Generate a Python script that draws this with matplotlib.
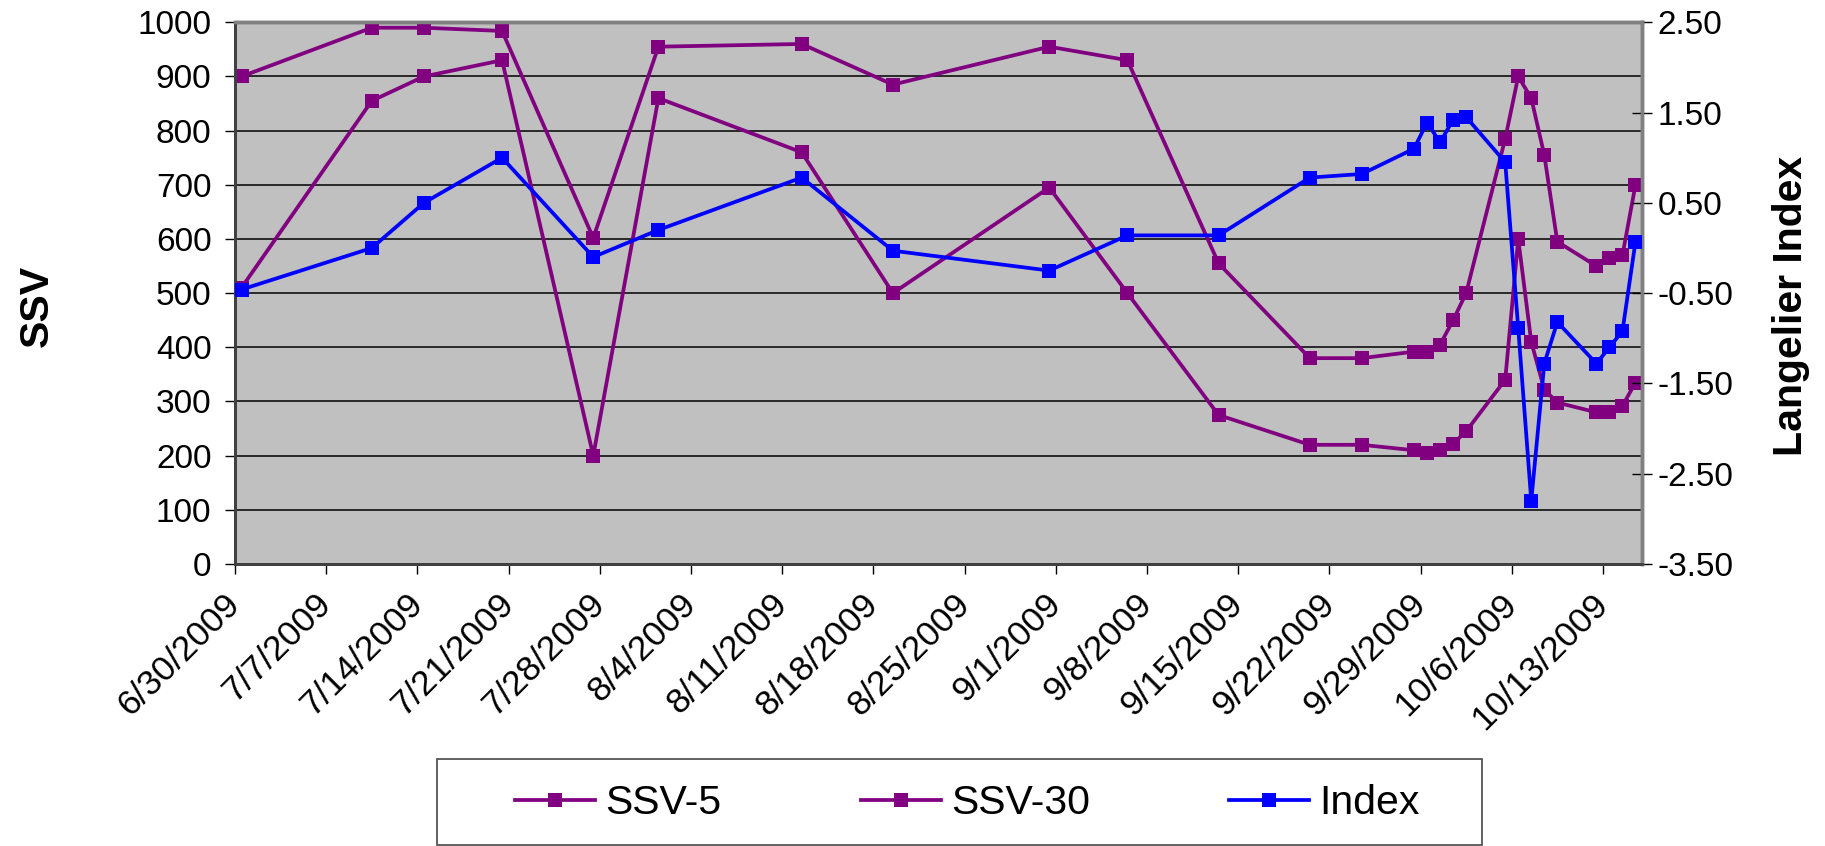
import matplotlib
matplotlib.use("Agg")
import matplotlib.pyplot as plt
import matplotlib.dates as mdates
from matplotlib.ticker import FormatStrFormatter, MultipleLocator
from matplotlib.patches import Rectangle
from datetime import datetime, timedelta
import numpy as np

plt.rcParams['font.family'] = ['Liberation Sans', 'DejaVu Sans']

dates = ['6/30/2009', '7/10/2009', '7/14/2009', '7/20/2009', '7/27/2009', '8/1/2009',
         '8/12/2009', '8/19/2009', '8/31/2009', '9/6/2009', '9/13/2009', '9/20/2009',
         '9/24/2009', '9/28/2009', '9/29/2009', '9/30/2009', '10/1/2009', '10/2/2009',
         '10/5/2009', '10/6/2009', '10/7/2009', '10/8/2009', '10/9/2009', '10/12/2009',
         '10/13/2009', '10/14/2009', '10/15/2009']
ssv5 = [900, 990, 990, 984, 602, 955, 960, 885, 955, 930, 555, 380, 380, 392, 392,
        405, 450, 500, 785, 900, 860, 755, 595, 550, 565, 570, 700]
ssv30 = [510, 855, 900, 930, 200, 860, 760, 500, 695, 500, 275, 220, 220, 210, 205,
         210, 222, 245, 340, 600, 410, 322, 298, 280, 280, 292, 335]
index = [-0.46, 0.0, 0.5, 1.0, -0.1, 0.2, 0.78, -0.03, -0.25, 0.14, 0.14, 0.78, 0.82,
         1.1, 1.39, 1.17, 1.42, 1.45, 0.95, -0.89, -2.80, -1.28, -0.82, -1.28, -1.10,
         -0.92, 0.07]
tick_labels = ['6/30/2009', '7/7/2009', '7/14/2009', '7/21/2009', '7/28/2009', '8/4/2009',
               '8/11/2009', '8/18/2009', '8/25/2009', '9/1/2009', '9/8/2009', '9/15/2009',
               '9/22/2009', '9/29/2009', '10/6/2009', '10/13/2009']

x = [datetime.strptime(d, '%m/%d/%Y') for d in dates]
half = timedelta(hours=12)
tick_pos = [datetime.strptime(t, '%m/%d/%Y') - half for t in tick_labels]

W, H = 1825, 846
fig = plt.figure(figsize=(W / 100, H / 100), dpi=100)
L, R, T, B = 235, 1642, 22.3, 564
ax = fig.add_axes([L / W, 1 - B / H, (R - L) / W, (B - T) / H])
ax.set_facecolor('#C0C0C0')

purple = '#800080'
blue = '#0000FF'
kw = dict(marker='s', markersize=9.5, linewidth=2.7, markeredgewidth=0)
l1, = ax.plot(x, ssv5, color=purple, label='SSV-5', zorder=3, **kw)
l2, = ax.plot(x, ssv30, color=purple, label='SSV-30', zorder=3, **kw)

ax.set_xlim(x[0] - half, x[-1] + half)
ax.set_ylim(0, 1000)
ax.yaxis.set_major_locator(MultipleLocator(100))
ax.yaxis.grid(True, color='black', linewidth=1.1)
ax.set_axisbelow(True)
ax.set_xticks(tick_pos)
ax.set_xticklabels(tick_labels, rotation=45, ha='right', va='center',
                   rotation_mode='anchor', fontsize=25.5)
ax.tick_params(axis='y', labelsize=24, direction='out', length=7, width=1, pad=10)
ax.tick_params(axis='x', direction='out', length=7, width=1, pad=18)

ax2 = ax.twinx()
l3, = ax2.plot(x, index, color=blue, label='Index', zorder=4, **kw)
ax2.set_ylim(-3.5, 2.5)
ax2.set_yticks(np.arange(-3.5, 2.51, 1.0))
ax2.yaxis.set_major_formatter(FormatStrFormatter('%.2f'))
ax2.tick_params(axis='y', labelsize=24, direction='inout', length=14, width=1, pad=4)
ax2.set_xlim(x[0] - half, x[-1] + half)

for a in (ax, ax2):
    a.spines['top'].set_color('#808080')
    a.spines['top'].set_linewidth(2.5)
    a.spines['right'].set_color('#808080')
    a.spines['right'].set_linewidth(2.5)
    a.spines['left'].set_color('#404040')
    a.spines['left'].set_linewidth(2)
    a.spines['bottom'].set_color('#404040')
    a.spines['bottom'].set_linewidth(2)

fig.text(37 / W, 1 - 306 / H, 'SSV', rotation=90, fontsize=29.5, fontweight='bold',
         ha='center', va='center')
fig.text(1791 / W, 1 - 306 / H, 'Langelier Index', rotation=90, fontsize=29.5,
         fontweight='bold', ha='center', va='center')

box = Rectangle((436.7 / W, 1 / H), 1045 / W, 86 / H, transform=fig.transFigure,
                facecolor='white', edgecolor='#555555', linewidth=1.3, zorder=0)
fig.patches.append(box)
fig.legend([l1, l2, l3], ['SSV-5', 'SSV-30', 'Index'], ncol=3, frameon=False,
           loc='center', bbox_to_anchor=(967.7 / W, 1 - 803 / H),
           fontsize=29.5, handlelength=1.95, handletextpad=0.25, columnspacing=3.4,
           borderpad=0.2)

fig.savefig('out.png', dpi=100)
